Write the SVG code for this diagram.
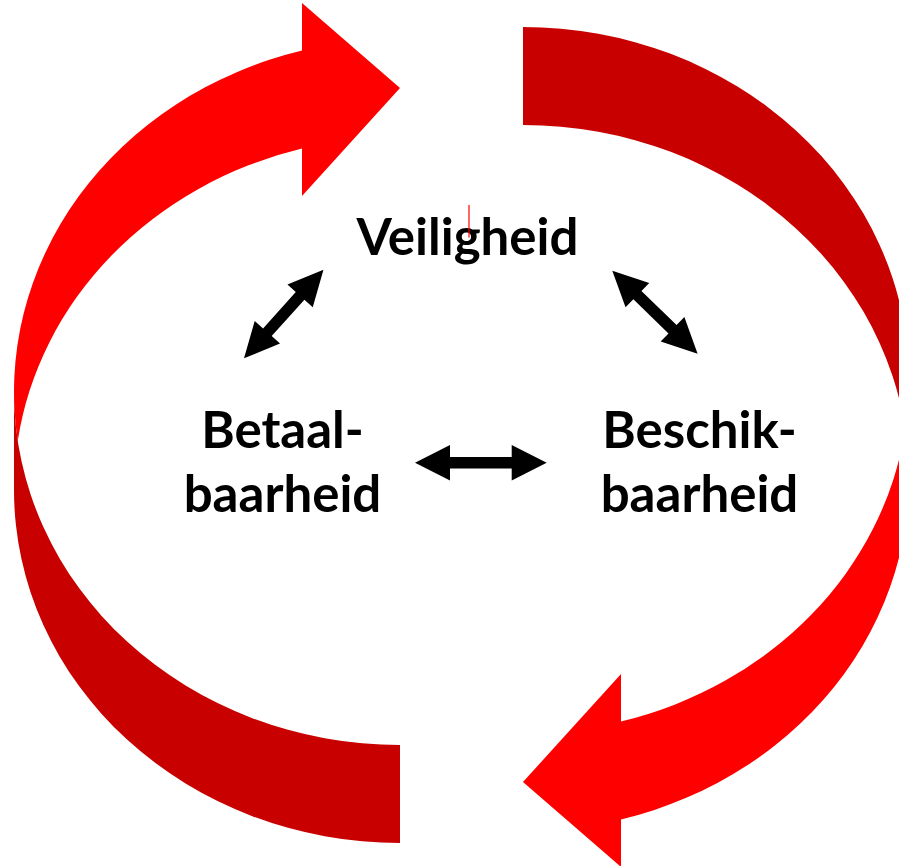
<svg xmlns="http://www.w3.org/2000/svg" width="899" height="866" viewBox="0 0 899 866">
  <style>
    .front { fill: #FF0000; }
    .back { fill: #C80000; }
    .dbl { fill: #000000; }
    .lbl { font-family: Lato, "Open Sans", "Liberation Sans", sans-serif; font-weight: bold; font-size: 51px; fill: #000000; text-anchor: middle; }
  </style>
  <defs>
    <path id="dblArrowH" d="M0,0 L35,-17.8 L35,-5.8 L96.7,-5.8 L96.7,-17.8 L131.7,0 L96.7,17.8 L96.7,5.8 L35,5.8 L35,17.8 Z"/>
    <path id="dblArrowD" d="M0,0 L35,-17 L35,-5.8 L84,-5.8 L84,-17 L119,0 L84,17 L84,5.8 L35,5.8 L35,17 Z"/>
  </defs>
  <rect x="0" y="0" width="899" height="866" fill="#FFFFFF"/>

  <g id="cycle-arrows">
    <g id="arrow-left">
      <path class="front" d="M302,50.57 A386,353 0 0 0 17.74,441 A386,353 0 0 1 302,148.57 L302,196.07 L400,88 L302,3.07 Z"/>
      <path class="back" d="M400,843 A386,353 0 0 1 14,490 L14,392 A386,353 0 0 0 400,745 Z"/>
    </g>
    <g id="arrow-right" transform="rotate(180 461.5 435)">
      <path class="front" d="M302,50.57 A386,353 0 0 0 17.74,441 A386,353 0 0 1 302,148.57 L302,196.07 L400,88 L302,3.07 Z"/>
      <path class="back" d="M400,843 A386,353 0 0 1 14,490 L14,392 A386,353 0 0 0 400,745 Z"/>
    </g>
  </g>

  <g id="connectors">
    <use class="dbl" href="#dblArrowD" transform="translate(244,358.3) rotate(-48.1)"/>
    <use class="dbl" href="#dblArrowD" transform="translate(612.3,270.7) rotate(44.2)"/>
    <use class="dbl" href="#dblArrowH" transform="translate(415,462.7)"/>
  </g>

  <g id="node-veiligheid">
    <text class="lbl" x="467.5" y="255">Veiligheid</text>
    <line x1="469" y1="205" x2="469" y2="237.5" stroke="#FF0000" stroke-width="1.2"/>
  </g>
  <g id="node-betaalbaarheid">
    <text class="lbl" x="282.5" y="448">Betaal-</text>
    <text class="lbl" x="282.5" y="512">baarheid</text>
  </g>
  <g id="node-beschikbaarheid">
    <text class="lbl" x="699.5" y="448">Beschik-</text>
    <text class="lbl" x="699.5" y="512">baarheid</text>
  </g>
</svg>
